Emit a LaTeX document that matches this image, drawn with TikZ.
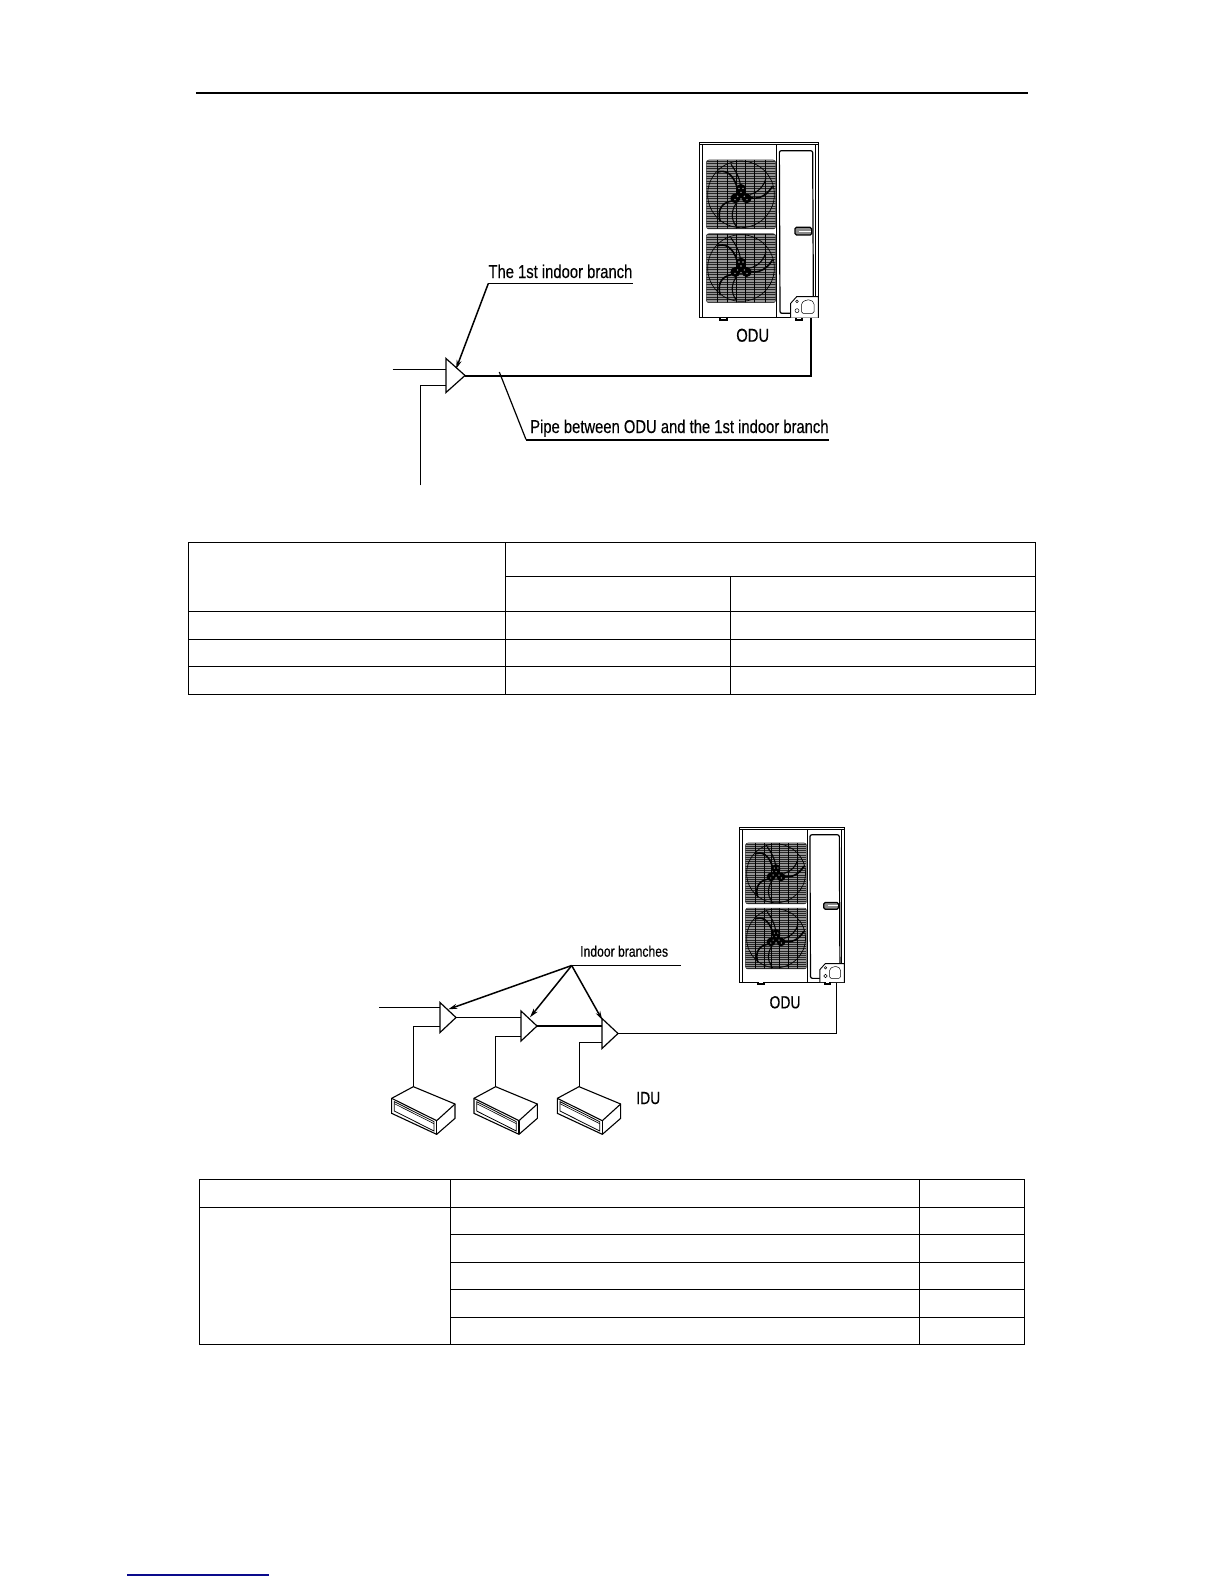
\documentclass[tikz,border=0pt]{standalone}
\usepackage{fontspec}
\setmainfont[FakeStretch=0.795,FakeBold=0.3]{Liberation Sans}
\usetikzlibrary{arrows.meta,shapes.geometric}
\definecolor{footblue}{RGB}{10,10,140}
\tikzset{
  pipe/.style={draw=black,line width=1.2pt},
  thickpipe/.style={draw=black,line width=2pt},
  leader/.style={draw=black,line width=1.4pt},
  leadarrow/.style={draw=black,line width=1.5pt,-{Stealth[length=9pt,width=5pt]}},
  branchA/.style={shape=isosceles triangle,isosceles triangle stretches,draw=black,line width=1.2pt,fill=white,minimum width=34pt,minimum height=19pt,inner sep=0pt,outer sep=0pt,anchor=apex},
  branchB/.style={branchA,minimum width=30pt,minimum height=16pt},
  label/.style={inner sep=0pt,anchor=base west,font=\fontsize{18.6}{18.6}\selectfont},
  labelc/.style={inner sep=0pt,anchor=base,font=\fontsize{18.6}{18.6}\selectfont},
  tline/.style={draw=black,line width=1.1pt},
  oduline/.style={draw=black,line width=.7pt},
}
% one fan grille, in units of the ODU scope; argument is the centre
\newcommand{\fangrille}[2]{%
  \begin{scope}[shift={(#1,#2)}]
    \begin{scope}
      \clip[rounded corners=2.5pt] (-104,-103) rectangle (104,104);
      \fill[black!42] (-104,-103) rectangle (104,104);
      \foreach \k in {-100,-92.5,...,104}{\draw[black!85,line width=.55pt] (-104,\k) -- (104,\k);}
      \foreach \k in {-70,-40,-15,12,40,72}{\draw[black,line width=.55pt] (\k,-103) -- (\k,104);}
      \draw[black,line width=.7pt] (0,0) circle[radius=100];
      \draw[black,line width=1.6pt] (-12,-22) .. controls (-25,-65) and (-50,-75) .. (-72,-66);
      \draw[black,line width=1.6pt] (20,8) .. controls (55,20) and (80,0) .. (95,-25);
      \draw[black,line width=1.6pt] (-28,20) .. controls (-60,25) and (-72,50) .. (-62,82);
      \draw[black,line width=1.1pt] (-2,-28) .. controls (-5,-55) and (-20,-75) .. (-30,-90);
      \draw[black,line width=1.1pt] (28,0) .. controls (50,-5) and (70,-25) .. (75,-50);
      \draw[black,line width=1.1pt] (-15,28) .. controls (-30,50) and (-30,75) .. (-15,95);
      \fill[black] (0,-16) circle[radius=15];
      \fill[black] (17,12) circle[radius=15];
      \fill[black] (-17,12) circle[radius=15];
      \fill[black] (0,3) circle[radius=15];
      \foreach \a/\b in {-6/-18,6/-18,0/-6,-10/6,10/6,-18/16,18/16,0/14}{\fill[black!35] (\a,\b) circle[radius=2.4];}
    \end{scope}
    \draw[black!80,line width=.5pt,rounded corners=2.5pt] (-104,-103) rectangle (104,104);
  \end{scope}}
% ODU body, in the coordinates of a 3x crop
\newcommand{\odubody}{%
  \draw[oduline,line width=.9pt] (58,38) rectangle (415,563);
  \draw[oduline,line width=1.5pt] (58,38) -- (415,38);
  \draw[oduline,line width=.5pt] (58,44) -- (415,44);
  \draw[oduline,line width=.5pt] (68,44) -- (68,563);
  \draw[oduline] (290,44) -- (290,563);
  \draw[oduline,line width=1.2pt,rounded corners=2pt] (332,550) -- (300,550) -- (298,62) -- (398,62) -- (400,500);
  \draw[oduline,line width=.5pt] (405,44) -- (405,500);
  \fangrille{183}{193}
  \fangrille{183}{414}
  \draw[oduline,line width=1.2pt,rounded corners=1.5pt,fill=black!45] (345,292) rectangle (395,315);
  \draw[white,line width=.9pt] (358,303) -- (392,303);
  \draw[oduline,line width=.9pt,fill=white] (332,563) -- (332,520) -- (350,500) -- (415,500) -- (415,563);
  \draw[oduline,line width=.5pt,rounded corners=1.5pt] (365,550) -- (365,518) -- (378,510) -- (392,510) -- (402,518) -- (402,550) -- cycle;
  \draw[oduline,line width=.5pt] (351,514) circle[radius=4] (351,542) circle[radius=6];
  \fill[black] (118,563) rectangle (145,572);
  \fill[black] (345,563) rectangle (370,572);
  \fill[white] (124,563) rectangle (139,567);
  \fill[white] (351,563) rectangle (364,567);
}
% IDU box, coordinates of the 3x crop of the lower figure
\newcommand{\idubox}{%
  \draw[oduline,line width=1.1pt,fill=white] (95,505) -- (160,470) -- (285,522) -- (285,565) -- (230,613) -- (95,550) -- cycle;
  \draw[oduline,line width=1.1pt] (95,505) -- (230,572) -- (285,522);
  \draw[oduline,line width=1.1pt] (230,572) -- (230,613);
  \draw[oduline,line width=.8pt] (103,515) -- (222,575) -- (222,603) -- (103,543) -- cycle;
  \draw[oduline,line width=.6pt] (103,521) -- (222,581);
}
\begin{document}
\begin{tikzpicture}[x=1pt,y=-1pt]
\useasboundingbox (0,0) rectangle (1224,1584);
\fill[white] (0,0) rectangle (1224,1584);
% header and footer rules
\coordinate (hl) at (195.8,93); \coordinate (hr) at (1028,93);
\draw[black,line width=2pt] (hl) -- (hr);
\coordinate (fl) at (127,1575); \coordinate (fr) at (269,1575);
\draw[footblue,line width=1.2pt] (fl) -- (fr);

% ---- upper figure
\begin{scope}[shift={(680,130)},scale=1/3]
  \odubody
\end{scope}
\node[labelc] (odua) at (752.7,341.7) {ODU};
\node[branchA] (ta) at (465,375.5) {};
\coordinate (ainl) at (392.7,369.5);
\coordinate (ainr) at (446,369.5);
\coordinate (adn) at (420.5,485.3);
\coordinate (abr) at (446,385.5);
\coordinate (aodu) at (810.7,317.7);
\draw[pipe] (ainl) -- (ainr);
\draw[pipe] (adn) |- (abr);
\draw[thickpipe] (ta.apex) -| (aodu);
\node[label] (la) at (488.3,278) {The 1st indoor branch};
\coordinate (lal) at (488.3,283.5); \coordinate (lar) at (633.3,283.5); \coordinate (latip) at (456,369);
\draw[pipe] (lal) -- (lar);
\draw[leadarrow] (lal) -- (latip);
\node[label] (lb) at (530,433) {Pipe between ODU and the 1st indoor branch};
\coordinate (lbl) at (526,439.5); \coordinate (lbr) at (829.3,439.5); \coordinate (lbtip) at (499.3,372);
\draw[thickpipe] (lbl) -- (lbr);
\draw[pipe] (lbl) -- (lbtip);

% ---- table 1
\draw[tline] (188.5,542.5) rectangle (1035.5,694.5);
\draw[tline] (505.5,542.5) -- (505.5,694.5);
\draw[tline] (730.5,576.5) -- (730.5,694.5);
\draw[tline] (505.5,576.5) -- (1035.5,576.5);
\draw[tline] (188.5,611.5) -- (1035.5,611.5);
\draw[tline] (188.5,639.5) -- (1035.5,639.5);
\draw[tline] (188.5,666.5) -- (1035.5,666.5);

% ---- lower figure
\begin{scope}[shift={(722.2,816.5)},scale=0.2943]
  \odubody
\end{scope}
\node[labelc,font=\fontsize{17.5}{17.5}\selectfont] (odub) at (785,1008.3) {ODU};
\node[branchB] (tA) at (456,1017.5) {};
\node[branchB] (tB) at (537,1026) {};
\node[branchB] (tC) at (618,1033.5) {};
\coordinate (Ain) at (379.3,1007.5); \coordinate (Ainr) at (440,1007.5);
\coordinate (Bin) at (521,1017.5); \coordinate (Cin) at (602,1026);
\coordinate (bodu) at (836.5,982.6);
\draw[pipe] (Ain) -- (Ainr);
\draw[pipe] (tA.apex) -- (Bin);
\draw[thickpipe] (tB.apex) -- (Cin);
\draw[pipe] (tC.apex) -| (bodu);
\begin{scope}[shift={(360,930)},scale=1/3]
  \idubox
  \begin{scope}[xshift=247] \idubox \end{scope}
  \begin{scope}[xshift=497] \idubox \end{scope}
\end{scope}
\coordinate (Ad) at (413.5,1086.7); \coordinate (Ar) at (440,1026.5);
\coordinate (Bd) at (495.5,1086.7); \coordinate (Br) at (521,1036.5);
\coordinate (Cd) at (579.5,1086.7);   \coordinate (Cr) at (602,1042.5);
\draw[pipe] (Ad) |- (Ar);
\draw[pipe] (Bd) |- (Br);
\draw[pipe] (Cd) |- (Cr);
\node[label,font=\fontsize{15.3}{15.3}\selectfont] (lc) at (580,956.7) {Indoor branches};
\coordinate (lcl) at (571.7,965.5); \coordinate (lcr) at (681,965.5);
\draw[pipe] (lcl) -- (lcr);
\coordinate (c1) at (448.3,1009.3); \coordinate (c2) at (530,1017.3); \coordinate (c3) at (602.3,1020);
\draw[leadarrow] (lcl) -- (c1);
\draw[leadarrow] (lcl) -- (c2);
\draw[leadarrow] (lcl) -- (c3);
\node[labelc,font=\fontsize{17.5}{17.5}\selectfont] (idu) at (648.3,1104) {IDU};

% ---- table 2
\draw[tline] (199.5,1179.5) rectangle (1024.5,1344.5);
\draw[tline,line width=1.4pt] (450.5,1179.5) -- (450.5,1344.5);
\draw[tline,line width=.9pt] (919.5,1179.5) -- (919.5,1344.5);
\draw[tline] (199.5,1207.5) -- (1024.5,1207.5);
\foreach \yy in {1234.5,1262.5,1289.5,1317.5}{\draw[tline] (450.5,\yy) -- (1024.5,\yy);}
\end{tikzpicture}
\end{document}
